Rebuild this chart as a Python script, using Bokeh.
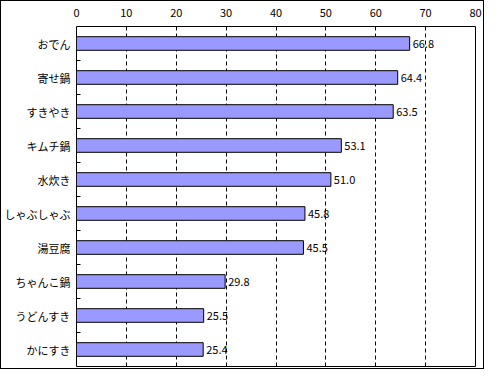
from bokeh.plotting import figure
from bokeh.models import Range1d, FixedTicker, ColumnDataSource
from bokeh.core.properties import value
from bokeh.embed import file_html
from bokeh.resources import INLINE

categories = ["おでん", "寄せ鍋", "すきやき", "キムチ鍋", "水炊き", "しゃぶしゃぶ", "湯豆腐", "ちゃんこ鍋", "うどんすき", "かにすき"]
values = [66.8, 64.4, 63.5, 53.1, 51.0, 45.8, 45.5, 29.8, 25.5, 25.4]
x_ticks = [0, 10, 20, 30, 40, 50, 60, 70, 80]

n = len(categories)
pos = [i + 0.5 for i in range(n)]
labels = ["%.1f" % v for v in values]

src = ColumnDataSource(dict(y=pos, v=values, lab=labels, cat=categories))

FONT = "Noto Sans CJK JP"

p = figure(width=484, height=369, output_backend="svg", toolbar_location=None,
           x_range=Range1d(0, 80), y_range=Range1d(n, 0),
           x_axis_location="above", min_border_left=68, min_border_right=10,
           min_border_top=25, min_border_bottom=4)
p.styles = {"border": "1px solid black", "box-sizing": "border-box"}
p.outline_line_color = "black"
p.outline_line_width = 1
p.background_fill_color = "white"
p.border_fill_color = "white"

# x axis on top
xa = p.xaxis[0]
xa.ticker = FixedTicker(ticks=x_ticks)
xa.major_tick_in = 0
xa.major_tick_out = 0
xa.minor_tick_line_color = None
xa.axis_line_color = None
xa.major_label_text_font = FONT
xa.major_label_text_font_size = "11px"
xa.major_label_text_color = "black"
xa.major_label_standoff = 10

# y axis: labels at centers, ticks at boundaries (as minor ticks)
ya = p.yaxis[0]
ya.ticker = FixedTicker(ticks=pos, minor_ticks=list(range(1, n)))
ya.major_label_overrides = {p_: c for p_, c in zip(pos, categories)}
ya.major_tick_in = 0
ya.major_tick_out = 0
ya.minor_tick_in = 4
ya.minor_tick_out = 0
ya.minor_tick_line_color = "black"
ya.axis_line_color = None
ya.major_label_text_font = FONT
ya.major_label_text_font_size = "11px"
ya.major_label_text_color = "black"
ya.major_label_standoff = 6

p.xgrid.ticker = FixedTicker(ticks=x_ticks[1:-1])
p.xgrid.grid_line_color = "black"
p.xgrid.grid_line_dash = "4 3"
p.xgrid.grid_line_width = 1
p.ygrid.grid_line_color = None

p.hbar(y="y", right="v", left=0, height=0.4, source=src,
       fill_color="#9999FF", line_color="black", line_width=1)

p.text(x="v", y="y", text="lab", source=src, x_offset=3,
       text_font=value(FONT), text_font_size="11px", text_color="black",
       text_align="left", text_baseline="middle")

open("out.html", "w").write(file_html(p, INLINE))
